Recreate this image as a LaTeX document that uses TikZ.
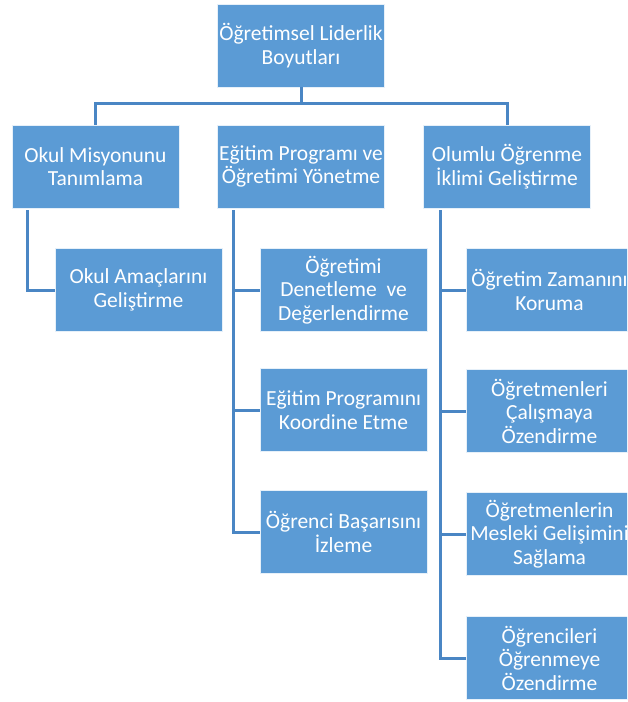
\documentclass[tikz,border=0pt]{standalone}
\usepackage{fontspec}
\setmainfont{Carlito}
\definecolor{boxblue}{HTML}{5B9BD5}
\definecolor{lineblue}{HTML}{4A86C4}
\begin{document}
\begin{tikzpicture}[x=1pt,y=-1pt,
  box/.style={draw=white!85!boxblue,line width=0.8pt,fill=boxblue,text=white,
    minimum width=167pt,minimum height=83pt,inner sep=0pt,align=center,
    font=\fontsize{21.5}{23.5}\selectfont},
  conn/.style={draw=lineblue,line width=3pt}]
\useasboundingbox (0,0) rectangle (627,702);
\clip (0,0) rectangle (627,702);
\node[box] (top) at (301,45.5) {Öğretimsel Liderlik\\Boyutları};
\node[box] (b1) at (95.5,166.5) {Okul Misyonunu\\Tanımlama};
\node[box] (b2) at (301,166.5) {Eğitim Programı ve\\Öğretimi Yönetme};
\node[box] (b3) at (507,166.5) {Olumlu Öğrenme\\İklimi Geliştirme};
\node[box] (c1) at (138.5,290) {Okul Amaçlarını\\Geliştirme};
\node[box] (m1) at (343.5,290) {Öğretimi\\Denetleme~ ve\\Değerlendirme};
\node[box] (m2) at (343.5,410) {Eğitim Programını\\Koordine Etme};
\node[box] (m3) at (343.5,532) {Öğrenci Başarısını\\İzleme};
\node[box] (r1) at (549.5,290) {Öğretim Zamanını\\Koruma};
\node[box] (r2) at (549.5,411) {Öğretmenleri\\Çalışmaya\\Özendirme};
\node[box] (r3) at (549.5,534) {Öğretmenlerin\\Mesleki Gelişimini\\Sağlama};
\node[box] (r4) at (549.5,658) {Öğrencileri\\Öğrenmeye\\Özendirme};
\coordinate (bus) at (301,103);
\coordinate (t1) at (27,210);
\coordinate (t2) at (233,210);
\coordinate (t3) at (440,210);
\draw[conn] (top.south) -- (bus);
\draw[conn] (b1.north) |- (bus) -| (b3.north);
\draw[conn] (t1) |- (c1.west);
\draw[conn] (t2) |- (m1.west);
\draw[conn] (t2) |- (m2.west);
\draw[conn] (t2) |- (m3.west);
\draw[conn] (t3) |- (r1.west);
\draw[conn] (t3) |- (r2.west);
\draw[conn] (t3) |- (r3.west);
\draw[conn] (t3) |- (r4.west);
\end{tikzpicture}
\end{document}
